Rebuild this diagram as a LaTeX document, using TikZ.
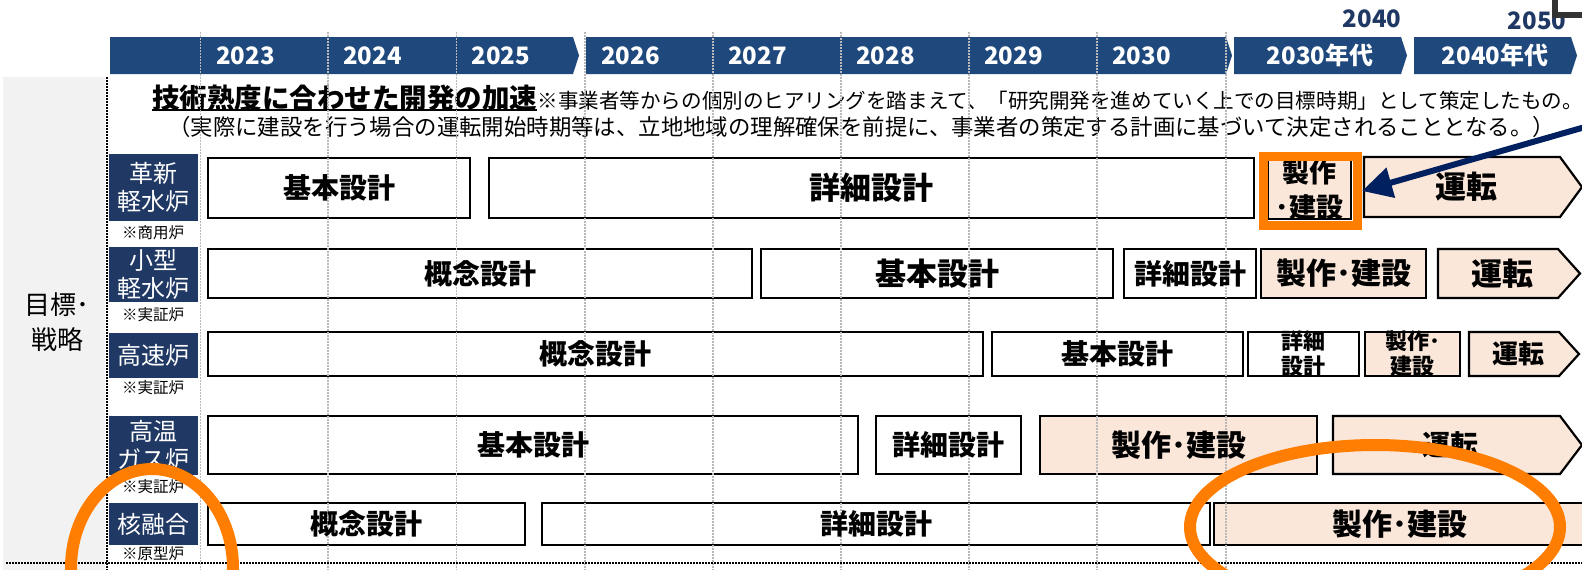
\documentclass[tikz,border=0pt]{standalone}
\usepackage{fontspec}
\setmainfont{Noto Sans CJK JP}
\usetikzlibrary{arrows.meta}
\definecolor{hdr}{RGB}{31,73,125}
\definecolor{lbl}{RGB}{31,56,100}
\definecolor{arrc}{RGB}{0,32,96}
\definecolor{orng}{RGB}{255,125,0}
\definecolor{beige}{RGB}{251,231,218}
\definecolor{panel}{RGB}{242,242,242}
\definecolor{gline}{RGB}{185,185,185}
\definecolor{corner}{RGB}{51,51,51}
\pgfdeclarelayer{fg}\pgfdeclarelayer{top}
\pgfsetlayers{main,fg,top}
\tikzset{
  bxw/.style={draw=black, line width=2.2pt, inner sep=0pt, fill=white},
  bxb/.style={draw=black, line width=2.2pt, inner sep=0pt, fill=beige, line join=miter},
  bxthin/.style={draw=black, line width=1.4pt, inner sep=0pt, fill=beige},
  btxt/.style={inner sep=0pt, align=center},
  fa/.style={font=\bfseries\fontsize{28pt}{32pt}\selectfont},
  fb/.style={font=\bfseries\fontsize{31pt}{34pt}\selectfont},
  fc/.style={font=\bfseries\fontsize{22pt}{25pt}\selectfont},
  fd/.style={font=\bfseries\fontsize{27pt}{35pt}\selectfont},
  ff/.style={font=\bfseries\fontsize{26pt}{30pt}\selectfont},
  fm/.style={font=\bfseries\fontsize{30pt}{32pt}\selectfont},
  yr/.style={inner sep=0pt, anchor=west, text=white, font=\bfseries\fontsize{24pt}{26pt}\selectfont},
  yrc/.style={inner sep=0pt, text=white, font=\bfseries\fontsize{24pt}{26pt}\selectfont},
  lab/.style={fill=lbl, text=white, inner sep=0pt, minimum width=89pt, align=center, font=\fontsize{24pt}{28pt}\selectfont},
  note/.style={inner sep=0pt, font=\fontsize{15.5pt}{17pt}\selectfont},
  gdot/.style={draw=gline, line width=1.5pt, dash pattern=on 1.5pt off 1.5pt},
  kdot/.style={draw=black, line width=1.6pt, dash pattern=on 1.6pt off 1.4pt},
  ring/.style={draw=orng, line width=12pt},
}
% name, x1, y1, x2, y2, box style, text style, text
\newcommand\mybox[8]{%
  \pgfmathsetmacro\bw{#4-#2}\pgfmathsetmacro\bh{#5-#3}%
  \node[#6, minimum width=\bw pt, minimum height=\bh pt] (#1) at ({(#2+#4)/2},{(#3+#5)/2}) {};%
  \begin{pgfonlayer}{fg}\node[btxt,#7] at (#1.center) {#8};\end{pgfonlayer}}
% name, x1, y1, x2(tip), y2, xs(chevron start), text style, text
\newcommand\pent[8]{%
  \draw[bxb] (#2,#3) -- (#6,#3) -- (#4,{(#3+#5)/2}) -- (#6,#5) -- (#2,#5) -- cycle;%
  \coordinate (#1) at ({(#2+#6)/2+4},{(#3+#5)/2});%
  \begin{pgfonlayer}{fg}\node[btxt,#7] at (#1) {#8};\end{pgfonlayer}}
% name, y1, y2, text
\newcommand\rowlab[4]{%
  \pgfmathsetmacro\bh{#3-#2}%
  \node[lab, minimum height=\bh pt] (#1) at (153.5,{(#2+#3)/2}) {#4};}

\begin{document}
\begin{tikzpicture}[x=1pt,y=-1pt]
\useasboundingbox (0,0) rectangle (1582,570);
\fill[white] (0,0) rectangle (1582,570);
\fill[panel] (3,77) rectangle (105,570);

% header bar
\fill[hdr] (110,37) -- (573,37) -- (579,55.5) -- (573,74) -- (110,74) -- cycle;
\fill[hdr] (586,37) -- (1226,37) -- (1232,55.5) -- (1226,74) -- (586,74) -- cycle;
\fill[hdr] (1234,37) -- (1401,37) -- (1407,55.5) -- (1401,74) -- (1234,74) -- cycle;
\fill[hdr] (1414,37) -- (1571,37) -- (1577,55.5) -- (1571,74) -- (1414,74) -- cycle;
\begin{pgfonlayer}{fg}
\node[yr] (y23) at (216,55.5) {2023};
\node[yr] (y24) at (343,55.5) {2024};
\node[yr] (y25) at (471.5,55.5) {2025};
\node[yr] (y26) at (601,55.5) {2026};
\node[yr] (y27) at (728,55.5) {2027};
\node[yr] (y28) at (856,55.5) {2028};
\node[yr] (y29) at (984,55.5) {2029};
\node[yr] (y30) at (1112,55.5) {2030};
\node[yrc] (y30s) at (1320,55.5) {2030年代};
\node[yrc] (y40s) at (1495,55.5) {2040年代};
\node[yrc, text=lbl] (t2040) at (1372,19) {2040};
\node[yrc, text=lbl] (t2050) at (1537,21) {2050};
\draw[line width=5.5pt, draw=corner, fill=white] (1555,-10) rectangle (1600,15);
\end{pgfonlayer}

% title lines
\node[anchor=base west, inner sep=0pt, font=\bfseries\fontsize{27.5pt}{30pt}\selectfont] (tt1) at (152,108) {技術熟度に合わせた開発の加速};
\draw[line width=2pt] ([yshift=-2pt]tt1.base west) coordinate (ul1) -- ([yshift=-2pt]tt1.base east) coordinate (ul2);
\node[anchor=base west, inner sep=0pt, font=\fontsize{20.55pt}{24pt}\selectfont] (tt2) at (tt1.base east) {※事業者等からの個別のヒアリングを踏まえて、「研究開発を進めていく上での目標時期」として策定したもの。};
\node[anchor=base west, inner sep=0pt, font=\fontsize{22.4pt}{24pt}\selectfont] (tt3) at (168,135.5) {（実際に建設を行う場合の運転開始時期等は、立地地域の理解確保を前提に、事業者の策定する計画に基づいて決定されることとなる。）};

% left panel text
\node[inner sep=0pt, align=center, font=\fontsize{26pt}{35pt}\selectfont] (goal) at (57,322) {目標･\\戦略};

% row labels and notes
\rowlab{l1}{154}{221}{革新\\軽水炉}
\rowlab{l2}{247}{302}{小型\\軽水炉}
\rowlab{l3}{333}{378}{高速炉}
\rowlab{l4}{416}{475}{高温\\ガス炉}
\rowlab{l5}{503}{545}{核融合}
\node[note] (n1) at (153,233) {※商用炉};
\node[note] (n2) at (153,315) {※実証炉};
\node[note] (n3) at (153,388) {※実証炉};
\node[note] (n4) at (153,487) {※実証炉};
\node[note] (n5) at (153,554) {※原型炉};

% row 1
\mybox{r1a}{208}{158}{470}{218}{bxw}{fa}{基本設計}
\mybox{r1b}{489}{158}{1254}{218}{bxw}{fb}{詳細設計}
\mybox{r1c}{1268}{160}{1351}{219}{bxthin}{fd}{製作\\･建設}
\pent{r1d}{1364}{157}{1582}{217}{1560}{fb}{運転}
% row 2
\mybox{r2a}{208}{249}{752}{298}{bxw}{fa}{概念設計}
\mybox{r2b}{761}{249}{1113}{298}{bxw}{fb}{基本設計}
\mybox{r2c}{1124}{249}{1256}{298}{bxw}{fa}{詳細設計}
\mybox{r2d}{1261}{249}{1426}{298}{bxb}{fm}{製作･建設}
\pent{r2e}{1438}{249}{1580}{298}{1558}{fb}{運転}
% row 3
\mybox{r3a}{208}{332}{983}{376}{bxw}{fa}{概念設計}
\mybox{r3b}{992}{332}{1243}{376}{bxw}{fa}{基本設計}
\mybox{r3c}{1248}{332}{1359}{376}{bxw}{fc}{詳細\\設計}
\mybox{r3d}{1365}{332}{1460}{376}{bxb}{fc}{製作･\\建設}
\pent{r3e}{1469}{332}{1579}{376}{1559}{ff}{運転}
% row 4
\mybox{r4a}{208}{416}{858}{474}{bxw}{fa}{基本設計}
\mybox{r4b}{876}{416}{1021}{474}{bxw}{fa}{詳細設計}
\mybox{r4c}{1040}{416}{1317}{474}{bxb}{fm}{製作･建設}
\pent{r4d}{1333}{416}{1582}{474}{1560}{fa}{運転}
% row 5
\mybox{r5a}{208}{503}{525}{545}{bxw}{fa}{概念設計}
\mybox{r5b}{542}{503}{1210}{545}{bxw}{fa}{詳細設計}
\mybox{r5c}{1214}{503}{1585}{545}{bxb}{fm}{製作･建設}

% grid lines
\foreach \x in {200.5,328,456.5,585,713,841,969,1097,1226}
  \draw[gdot] (\x,32) -- (\x,570);
\draw[kdot] (107,77) -- (107,570);
\draw[kdot] (6,563) -- (1582,563);

% highlights
\begin{pgfonlayer}{top}
\node[draw=orng, line width=9pt, minimum width=94pt, minimum height=69pt, inner sep=0pt] (hl) at (1310.5,191) {};
\coordinate (as) at (1592,125);
\draw[arrc, line width=6pt, -{Triangle[length=30pt,width=30pt]}] (as) -- (hl.east);
\draw[ring] (152,568) ellipse [x radius=81pt, y radius=99pt];
\draw[ring] (1375,527) ellipse [x radius=185pt, y radius=82pt];
\end{pgfonlayer}
\end{tikzpicture}
\end{document}
